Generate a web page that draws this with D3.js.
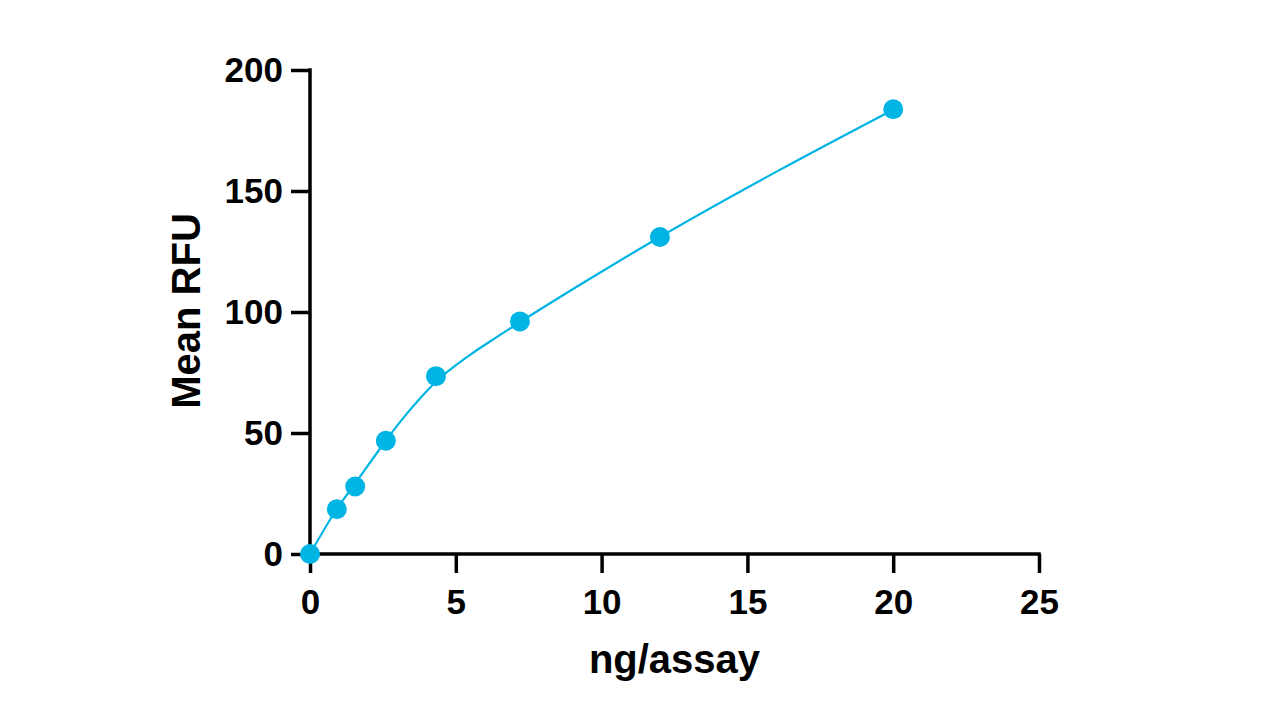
<!DOCTYPE html>
<html><head><meta charset="utf-8">
<script src="https://cdn.jsdelivr.net/npm/d3@7"></script>
<style>body{margin:0;background:#fff;} svg{display:block;}</style>
</head><body>
<svg id="chart" width="1280" height="720"></svg>
<script>
// measured points
const xValues = [0, 0.92, 1.55, 2.6, 4.32, 7.2, 12, 20];
const yValues = [0, 18.5, 27.9, 46.8, 73.5, 96.1, 131, 183.8];
// fitted curve
const fitX = [0, 0.92, 1.55, 2.6, 3.09, 3.77, 4.32, 5.49, 6.4, 7.2, 9.5, 12, 16, 20];
const fitY = [0, 18.6, 29.2, 46.8, 54.6, 64.3, 71.2, 82.3, 89.6, 95.8, 113, 131, 158, 183.6];
const xTicks = [0, 5, 10, 15, 20, 25];
const yTicks = [0, 50, 100, 150, 200];
const xTitle = "ng/assay";
const yTitle = "Mean RFU";
const color = "#00b4e4";

const svg = d3.select("#chart");
const x = d3.scaleLinear().domain([0, 25]).range([310, 1039]);
const y = d3.scaleLinear().domain([0, 200]).range([554, 70]);
const font = "'Liberation Sans', Arial, sans-serif";

const xAxis = svg.append("g").attr("transform", "translate(0,554)")
  .call(d3.axisBottom(x).tickValues(xTicks).tickSize(19).tickPadding(16).tickSizeOuter(0));
const yAxis = svg.append("g").attr("transform", "translate(310,0)")
  .call(d3.axisLeft(y).tickValues(yTicks).tickSize(19).tickPadding(8).tickSizeOuter(0));
[xAxis, yAxis].forEach(a => {
  a.select(".domain").attr("stroke", "#000").attr("stroke-width", 3.5);
  a.selectAll(".tick line").attr("stroke", "#000").attr("stroke-width", 3.5);
  a.selectAll(".tick text").attr("fill", "#000").style("font-family", font)
    .style("font-weight", "bold").style("font-size", "35px");
});
xAxis.select(".domain").attr("d", `M${x(0)-1.75},0H${x(25)+1.75}`);
yAxis.select(".domain").attr("d", `M0,${y(0)+1.75}V${y(200)-1.75}`);

const fit = fitX.map((v, i) => ({x: v, y: fitY[i]}));
svg.append("path").datum(fit)
  .attr("fill", "none").attr("stroke", color).attr("stroke-width", 2.2)
  .attr("d", d3.line().x(d => x(d.x)).y(d => y(d.y)).curve(d3.curveMonotoneX));

const data = xValues.map((v, i) => ({x: v, y: yValues[i]}));
svg.append("g").selectAll("circle").data(data).join("circle")
  .attr("cx", d => x(d.x)).attr("cy", d => y(d.y)).attr("r", 10).attr("fill", color);

svg.append("text").attr("x", 674.5).attr("y", 673).attr("text-anchor", "middle")
  .style("font-family", font).style("font-weight", "bold").style("font-size", "40px")
  .text(xTitle);
svg.append("text").attr("transform", "translate(200,311) rotate(-90)").attr("text-anchor", "middle")
  .style("font-family", font).style("font-weight", "bold").style("font-size", "40px")
  .text(yTitle);
</script>
</body></html>
